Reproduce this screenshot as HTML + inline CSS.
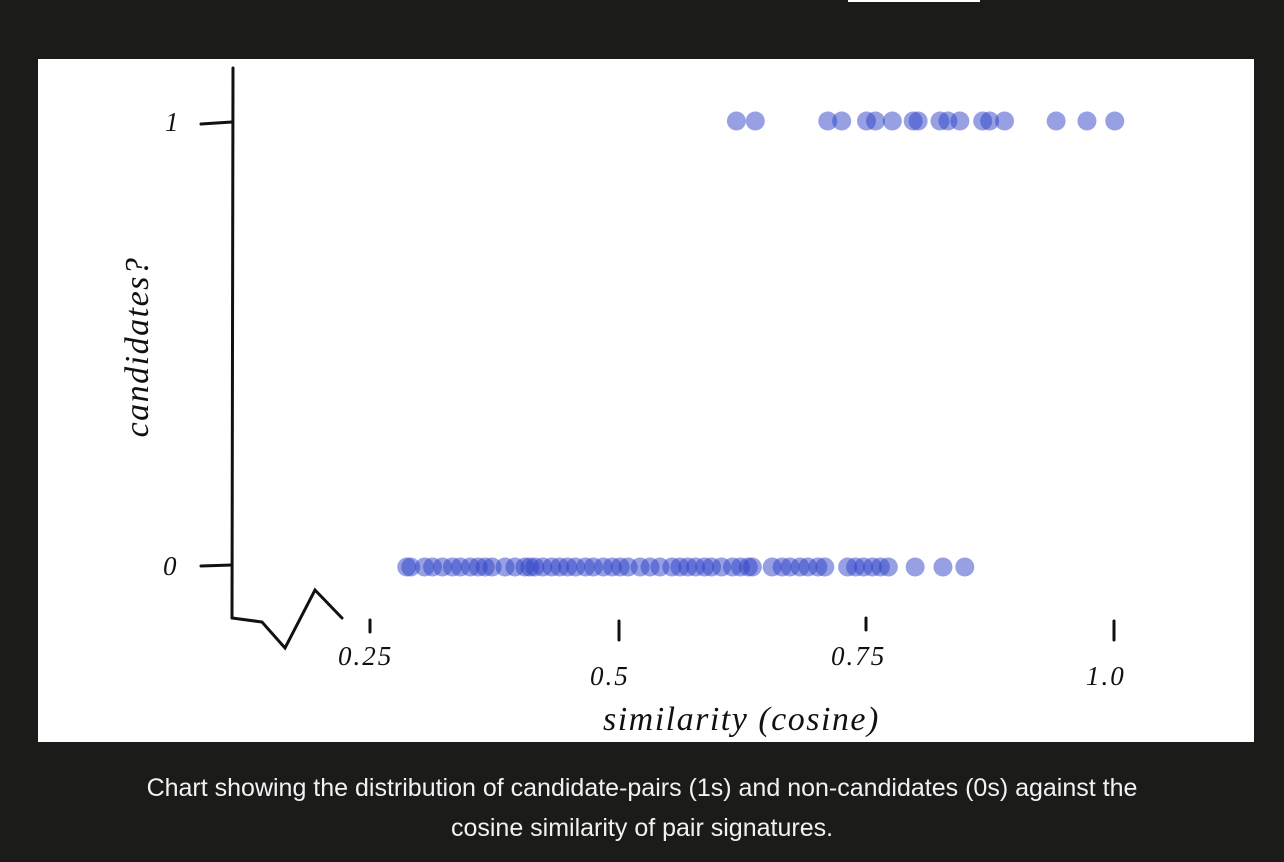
<!DOCTYPE html>
<html><head><meta charset="utf-8"><style>
body{margin:0;width:1284px;height:862px;background:#1b1b1a;overflow:hidden;font-family:"Liberation Sans",sans-serif}
#panel{position:absolute;left:38px;top:59px;width:1216px;height:683px;background:#fff}
#cap{position:absolute;left:0;top:768px;width:1284px;text-align:center;color:#f2f2f2;font-size:25px;line-height:40px}
#bar{position:absolute;left:848px;top:0;width:132px;height:2px;background:#fff}
</style></head><body>
<div id="bar"></div>
<div id="panel"></div>
<svg id="chart" width="1284" height="862" style="position:absolute;left:0;top:0">
<g stroke="#111" stroke-width="3" fill="none" stroke-linecap="round">
<path d="M233 68 L232 618"/>
<path d="M201 124 L232 122 M201 566 L232 565"/>
<path d="M232 618 L262 622 L285 648 L315 590 L342 618"/>
<path d="M370 632 L370 620 M619 640 L619 621 M866 630 L866 618 M1114 640 L1114 621"/>
</g>
<g font-family="Liberation Serif,serif" font-style="italic" fill="#111" font-size="27" letter-spacing="2">
<text x="165" y="131">1</text>
<text x="163" y="575">0</text>
<text x="338" y="665">0.25</text>
<text x="590" y="685">0.5</text>
<text x="831" y="665">0.75</text>
<text x="1086" y="685">1.0</text>
<text x="603" y="730" font-size="34" letter-spacing="1.5">similarity (cosine)</text>
<text transform="translate(148,347) rotate(-90)" text-anchor="middle" font-size="34" letter-spacing="1.5">candidates?</text>
</g>
<g id="dots"></g>
</svg>
<div id="cap">Chart showing the distribution of candidate-pairs (1s) and non-candidates (0s) against the<br>cosine similarity of pair signatures.</div>
<script>
const ones=[0.619,0.638,0.711,0.725,0.75,0.759,0.776,0.797,0.802,0.824,0.832,0.844,0.867,0.874,0.889,0.941,0.972,1.0];
const zeros=[0.287,0.291,0.305,0.313,0.323,0.333,0.341,0.351,0.359,0.366,0.373,0.386,0.396,0.406,0.411,0.416,0.424,0.433,0.441,0.449,0.457,0.467,0.475,0.485,0.494,0.502,0.510,0.522,0.532,0.542,0.554,0.562,0.570,0.578,0.587,0.594,0.604,0.615,0.623,0.631,0.635,0.655,0.665,0.673,0.683,0.691,0.701,0.708,0.731,0.739,0.747,0.756,0.764,0.772,0.799,0.827,0.849];
const xs=v=>370+(v-0.25)*993;
const ys=c=>567-c*446;
const g=document.getElementById('dots');
function draw(arr,c){arr.forEach(v=>{
const e=document.createElementNS('http://www.w3.org/2000/svg','circle');
e.setAttribute('cx',xs(v));e.setAttribute('cy',ys(c));e.setAttribute('r',9.5);
e.setAttribute('fill','rgba(45,65,200,0.5)');


g.appendChild(e);});}
draw(zeros,0);draw(ones,1);
</script>
</body></html>
